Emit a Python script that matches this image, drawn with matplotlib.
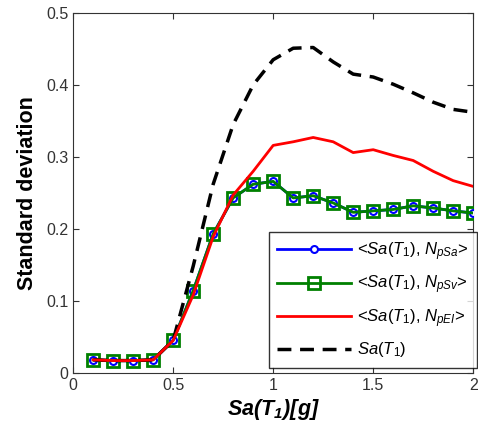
import numpy as np
import matplotlib
matplotlib.use("Agg")
import matplotlib.pyplot as plt

plt.rcParams['font.family'] = ['Liberation Sans', 'DejaVu Sans']
plt.rcParams['mathtext.fontset'] = 'custom'
plt.rcParams['mathtext.rm'] = 'Liberation Sans'
plt.rcParams['mathtext.it'] = 'Liberation Sans:italic'
plt.rcParams['mathtext.bf'] = 'Liberation Sans:bold:italic'

# Sa(T1) levels in g
sa = [0.1, 0.2, 0.3, 0.4, 0.5, 0.6, 0.7, 0.8, 0.9, 1.0,
      1.1, 1.2, 1.3, 1.4, 1.5, 1.6, 1.7, 1.8, 1.9, 2.0]

# standard deviation for each vector
std_npsa = [0.018, 0.017, 0.017, 0.018, 0.045, 0.114, 0.193, 0.243, 0.262, 0.266,
            0.243, 0.246, 0.236, 0.223, 0.225, 0.227, 0.232, 0.229, 0.225, 0.222]
std_npsv = [0.018, 0.017, 0.017, 0.018, 0.045, 0.114, 0.193, 0.243, 0.262, 0.266,
            0.243, 0.246, 0.236, 0.223, 0.225, 0.227, 0.232, 0.229, 0.225, 0.222]
std_npei = [0.018, 0.017, 0.017, 0.018, 0.045, 0.108, 0.189, 0.247, 0.280, 0.316,
            0.321, 0.327, 0.321, 0.306, 0.310, 0.302, 0.295, 0.280, 0.267, 0.259]
std_sa = [0.018, 0.017, 0.017, 0.018, 0.045, 0.148, 0.262, 0.345, 0.400, 0.435,
          0.451, 0.452, 0.432, 0.415, 0.411, 0.401, 0.389, 0.376, 0.366, 0.362]

fig = plt.figure(figsize=(4.78, 4.32), dpi=100)
ax = fig.add_axes([0.153, 0.137, 0.837, 0.833])

ax.plot(sa, std_npsa, color="blue", lw=2, marker="o", ms=5, mfc="white",
        mec="blue", mew=1.5, label=r"<$Sa(T_1)$, $N_{pSa}$>", zorder=3)
ax.plot(sa, std_npsv, color="green", lw=2, marker="s", ms=9, mfc="none",
        mec="green", mew=2, label=r"<$Sa(T_1)$, $N_{pSv}$>", zorder=4)
ax.plot(sa, std_npei, color="red", lw=2, label=r"<$Sa(T_1)$, $N_{pEI}$>", zorder=6)
ax.plot(sa, std_sa, color="black", lw=2.5, ls=(0, (4, 2.5)), label=r"$Sa(T_1)$", zorder=5)

ax.set_xlim(0, 2)
ax.set_ylim(0, 0.5)
ax.set_xticks([0, 0.5, 1, 1.5, 2])
ax.set_xticklabels(["0", "0.5", "1", "1.5", "2"])
ax.set_yticks([0, 0.1, 0.2, 0.3, 0.4, 0.5])
ax.set_yticklabels(["0", "0.1", "0.2", "0.3", "0.4", "0.5"])
ax.tick_params(direction="in", top=True, right=True, labelsize=11.5,
               labelcolor="#333333", length=4, color="#333333")
for sp in ax.spines.values():
    sp.set_color("#333333")

ax.set_xlabel(r"$\mathbf{Sa(T_1)[g]}$", fontsize=15.5, labelpad=3)
ax.set_ylabel("Standard deviation", fontsize=15.5, fontweight="bold", labelpad=6)

leg = ax.legend(loc="lower right", bbox_to_anchor=(1.01, 0.014), fontsize=12,
                frameon=True, fancybox=False, edgecolor="black",
                handlelength=4.4, handletextpad=0.4, borderaxespad=0,
                labelspacing=0.65, borderpad=0.5)
leg.get_frame().set_linewidth(1)

fig.savefig("out.png", dpi=100)
